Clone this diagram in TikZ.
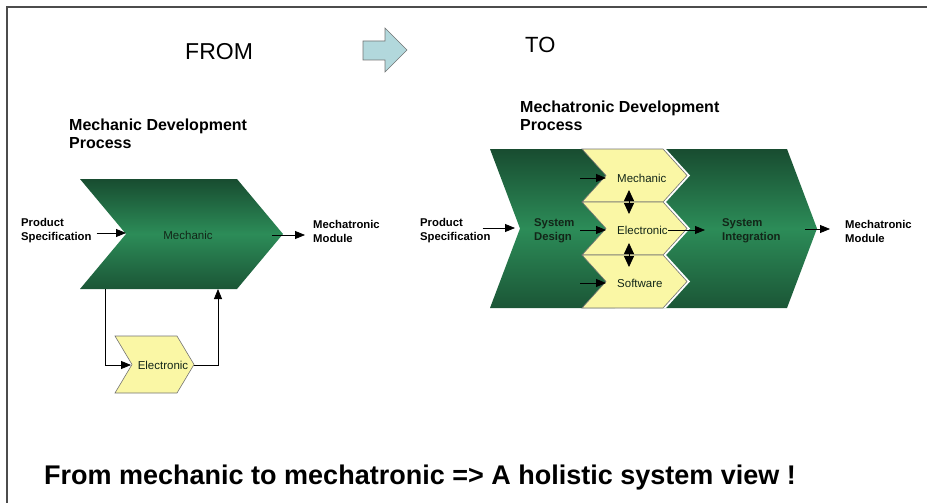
\documentclass[tikz,border=0pt]{standalone}
\usepackage{fontspec}
\setmainfont{Liberation Sans}
\usetikzlibrary{arrows.meta}
\definecolor{gdark}{RGB}{24,76,48}
\definecolor{gmid}{RGB}{44,140,88}
\definecolor{ylw}{RGB}{250,247,165}
\definecolor{blockcyan}{RGB}{178,216,220}
\definecolor{txtgreen}{RGB}{18,38,24}
\tikzset{
  arr/.style={-{Triangle[length=10pt,width=8pt]},line width=0.8pt},
  dblarr/.style={{Triangle[length=11pt,width=10pt]}-{Triangle[length=11pt,width=10pt]},line width=0.8pt},
  greenchev/.style={top color=gdark,bottom color=gdark!85!gmid,middle color=gmid},
  yellowchev/.style={fill=ylw,draw=black!55,line width=0.6pt},
  lbl/.style={font=\bfseries\fontsize{11.3}{14}\selectfont,align=left,inner sep=0pt,anchor=west},
  inlbl/.style={font=\fontsize{11.5}{13}\selectfont,inner sep=0pt,text=txtgreen},
  head/.style={font=\bfseries\fontsize{16}{18}\selectfont,align=left,inner sep=0pt,anchor=west}
}
% chevron: [style] left, top, right, bottom, depth
\newcommand{\chevshape}[6][]{%
  \path[#1] (#2,#3) -- (#4,#3) -- ({#4+#6},{(#3+#5)/2}) -- (#4,#5) -- (#2,#5)
    -- ({#2+#6},{(#3+#5)/2}) -- cycle;}
\begin{document}
\begin{tikzpicture}[x=1pt,y=-1pt]
\useasboundingbox (0,0) rectangle (927,503);
\draw[black!70,line width=2pt] (7,503) -- (7,7) -- (927,7);
% header
\node[font=\fontsize{23}{26}\selectfont,inner sep=0pt,anchor=base west] (from) at (185,60) {FROM};
\node[font=\fontsize{22}{25}\selectfont,inner sep=0pt,anchor=base west] (to) at (525,53) {TO};
\draw[fill=blockcyan,draw=black!55,line width=0.6pt] (363,41) -- (385,41) -- (385,28) -- (407,50)
  -- (385,72) -- (385,60) -- (363,60) -- cycle;
% mechanic process
\node[head] (titleM) at (69,134) {Mechanic Development\\Process};
\chevshape[greenchev]{80}{179}{237}{289}{46}
\node[inlbl] (mechT) at (188,235) {Mechanic};
\coordinate (mechIn) at (126,233);
\coordinate (mechOut) at (272,235);
\coordinate (mechDown) at (105,289);
\coordinate (mechUp) at (218,289);
\node[lbl] (specL) at (21,231) {Product\\Specification};
\node[lbl] (modL) at (313,231) {Mechatronic\\Module};
\draw[arr,shorten <=5pt] (specL.east |- mechIn) -- (mechIn);
\draw[arr,shorten >=8pt] (mechOut) -- (modL.west |- mechOut);
\chevshape[yellowchev]{115}{336}{177}{393}{17}
\node[inlbl] (elecL) at (163,365) {Electronic};
\coordinate (elecLIn) at (131,365);
\coordinate (elecLOut) at (194,365);
\draw[arr] (mechDown) |- (elecLIn);
\draw[arr] (elecLOut) -| (mechUp);
% mechatronic process
\node[head] (titleMT) at (520,116) {Mechatronic Development\\Process};
\chevshape[greenchev]{630}{149}{787}{308}{30}
\chevshape[greenchev]{490}{149}{615}{308}{30}
\foreach \yt/\yb in {149/202,202/255,255/308}
  \chevshape[fill=white,xshift=3pt]{582}{\yt}{663}{\yb}{24};
\foreach \nm/\lbl/\yt/\yb/\ty in {mech/Mechanic/149/202/178,elec/Electronic/202/255/230,soft/Software/255/308/283} {
  \chevshape[yellowchev]{582}{\yt}{663}{\yb}{24}
  \node[inlbl,anchor=west] (\nm Y) at (617,\ty) {\lbl};
  \coordinate (\nm In) at (606,\ty);
  \draw[arr] ([xshift=-26pt]\nm In) -- (\nm In);
}
\coordinate (sepA) at (629,202);
\coordinate (sepB) at (629,255);
\draw[dblarr] ([yshift=12pt]sepA) -- ([yshift=-12pt]sepA);
\draw[dblarr] ([yshift=12pt]sepB) -- ([yshift=-12pt]sepB);
\node[lbl] (specR) at (420,231) {Product\\Specification};
\coordinate (sdIn) at (515,228);
\draw[arr,shorten <=-8pt] (specR.east |- sdIn) -- (sdIn);
\node[lbl,text=txtgreen] (sysD) at (534,231) {System\\Design};
\coordinate (sysIIn) at (705,229);
\draw[arr] (elecY.east) -- (elecY.east -| sysIIn);
\node[lbl,text=txtgreen] (sysI) at (722,231) {System\\Integration};
\coordinate (sysIOut) at (805,229);
\node[lbl] (modR) at (845,231) {Mechatronic\\Module};
\draw[arr,shorten >=15pt] (sysIOut) -- (modR.west |- sysIOut);
% bottom line
\node[font=\bfseries\fontsize{27}{30}\selectfont,inner sep=0pt,anchor=base west] (motto) at (44,484)
  {From mechanic to mechatronic => A holistic system view !};
\end{tikzpicture}
\end{document}
